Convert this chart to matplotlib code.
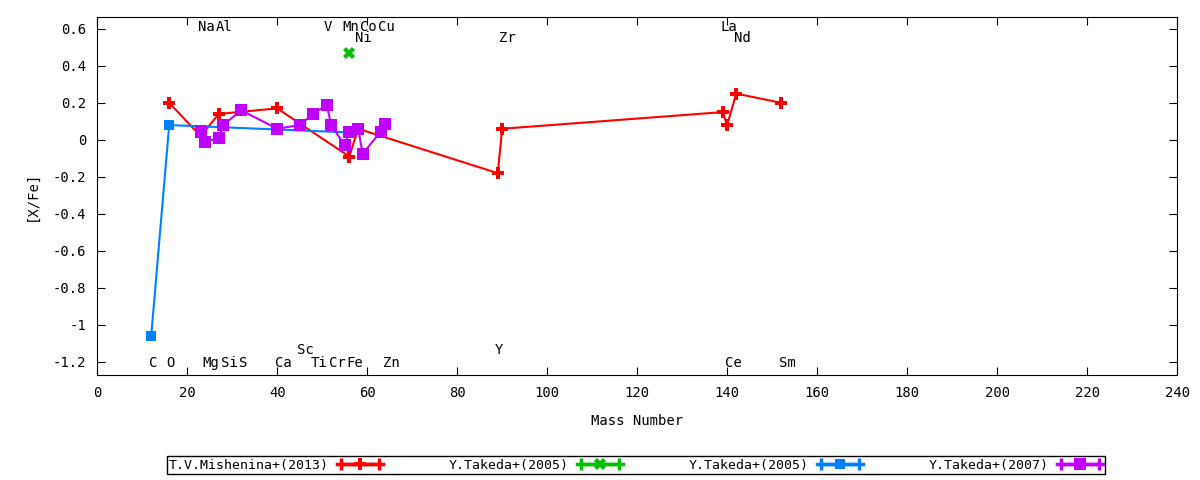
import matplotlib
matplotlib.use('Agg')
import matplotlib.pyplot as plt
from matplotlib.lines import Line2D
from matplotlib.legend_handler import HandlerLine2D

plt.rcParams['font.family'] = 'DejaVu Sans Mono'
plt.rcParams['font.size'] = 9
plt.rcParams['axes.unicode_minus'] = False

# T.V.Mishenina+(2013)
mish_mass = [16, 23, 27, 40, 56, 58, 89, 90, 139, 140, 142, 152]
mish_xfe = [0.20, 0.02, 0.14, 0.17, -0.09, 0.06, -0.18, 0.06, 0.15, 0.08, 0.25, 0.20]

# Y.Takeda+(2005), green
tak05a_mass = [56]
tak05a_xfe = [0.47]

# Y.Takeda+(2005), blue
tak05b_mass = [12, 16, 56]
tak05b_xfe = [-1.06, 0.08, 0.04]

# Y.Takeda+(2007)
tak07_mass = [23, 24, 27, 28, 32, 40, 45, 48, 51, 52, 55, 56, 58, 59, 63, 64]
tak07_xfe = [0.05, -0.01, 0.01, 0.08, 0.16, 0.06, 0.08, 0.14, 0.19, 0.08,
             -0.03, 0.045, 0.06, -0.075, 0.045, 0.085]

# element name labels
top_names = ['Na', 'Al', 'V', 'Mn', 'Co', 'Cu', 'La']
top_mass = [23, 27, 51, 55, 59, 63, 139]
top2_names = ['Ni', 'Zr', 'Nd']
top2_mass = [58, 90, 142]
bot_names = ['C', 'O', 'Mg', 'Si', 'S', 'Ca', 'Ti', 'Cr', 'Fe', 'Zn', 'Ce', 'Sm']
bot_mass = [12, 16, 24, 28, 32, 40, 48, 52, 56, 64, 140, 152]
bot2_names = ['Sc', 'Y']
bot2_mass = [45, 89]

fig = plt.figure(figsize=(12, 4.8), dpi=100)
ax = fig.add_axes([0.081, 0.219, 0.9, 0.746])

series = [
    ('T.V.Mishenina+(2013)', mish_mass, mish_xfe, '#ff0000', 'P', 8),
    ('Y.Takeda+(2005)', tak05a_mass, tak05a_xfe, '#00c000', 'X', 8),
    ('Y.Takeda+(2005)', tak05b_mass, tak05b_xfe, '#0080ff', 's', 7.5),
    ('Y.Takeda+(2007)', tak07_mass, tak07_xfe, '#c000ff', 's', 8.5),
]

handles = []
labels = []
hmap = {}
for name, xs, ys, c, m, ms in series:
    ax.plot(xs, ys, color=c, lw=1.5, marker=m, markersize=ms,
            markeredgewidth=0, zorder=3)
    main = Line2D([], [], color=c, lw=2.5, marker=m, markersize=ms,
                  markeredgewidth=0)
    caps = Line2D([], [], color=c, lw=2.5, marker='|', markersize=8,
                  markeredgewidth=2.5)
    hmap[caps] = HandlerLine2D(numpoints=2)
    hmap[main] = HandlerLine2D(numpoints=1)
    handles.append((caps, main))
    labels.append(name)

for names, masses, yv in [(top_names, top_mass, 0.608),
                          (top2_names, top2_mass, 0.55),
                          (bot_names, bot_mass, -1.207),
                          (bot2_names, bot2_mass, -1.135)]:
    for n, mx in zip(names, masses):
        ax.text(mx - 0.6, yv, n, ha='left', va='center', fontsize=10)

ax.set_xlim(0, 240)
ax.set_ylim(-1.27, 0.665)
ax.set_xticks(range(0, 241, 20))
ax.set_yticks([0.6, 0.4, 0.2, 0, -0.2, -0.4, -0.6, -0.8, -1, -1.2])
ax.yaxis.set_major_formatter(matplotlib.ticker.FormatStrFormatter('%g'))
ax.tick_params(direction='in', length=6, top=True, right=True,
               labelsize=10, pad=8)
ax.set_xlabel('Mass Number', fontsize=10, labelpad=10)
ax.set_ylabel('[X/Fe]', fontsize=10, labelpad=10)

leg = fig.legend(handles, labels, handler_map=hmap, ncol=4,
                 markerfirst=False, mode='expand', loc='center',
                 bbox_to_anchor=(160 / 1200, 5 / 480, 952 / 1200, 20 / 480),
                 fancybox=False, framealpha=1, edgecolor='black',
                 handlelength=3.5, fontsize=9.5, borderpad=0.2,
                 handletextpad=0.6)
leg.get_frame().set_linewidth(1.0)

fig.savefig('out.png', dpi=100)
